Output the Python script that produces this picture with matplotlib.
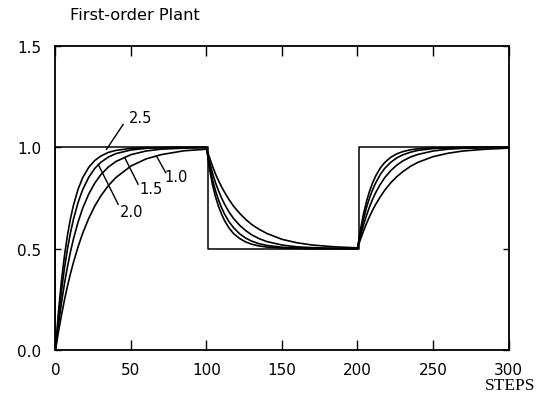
import matplotlib
matplotlib.use("Agg")
import matplotlib.pyplot as plt

# ---- data ----
steps = [0, 2, 4, 6, 8, 10, 12, 15, 18, 22, 26, 30, 35, 40, 50, 60, 70, 85, 100,
         102, 104, 106, 108, 110, 112, 115, 118, 122, 126, 130, 135, 140, 150, 160, 170, 185, 200,
         202, 204, 206, 208, 210, 212, 215, 218, 222, 226, 230, 235, 240, 250, 260, 270, 285, 300]

curve_2_5 = [0, .19, .344, .468, .569, .651, .717, .794, .85, .901, .935, .957, .975, .985, .995, .998, .999, 1.0, 1.0,
             .895, .815, .755, .708, .670, .638, .601, .574, .55, .533, .522, .513, .508, .503, .501, .5, .5, .5,
             .595, .672, .734, .784, .825, .858, .897, .925, .951, .968, .979, .988, .993, .998, .999, 1.0, 1.0, 1.0]
curve_2_0 = [0, .16, .294, .407, .501, .581, .648, .729, .791, .852, .896, .926, .952, .969, .987, .995, .998, .999, 1.0,
             .91, .84, .785, .74, .702, .670, .632, .603, .573, .552, .537, .524, .516, .507, .503, .501, .5, .5,
             .58, .647, .704, .751, .791, .824, .865, .896, .926, .948, .963, .976, .985, .994, .997, .999, 1.0, 1.0]
curve_1_5 = [0, .125, .234, .33, .413, .487, .551, .632, .699, .769, .823, .865, .903, .93, .964, .982, .991, .996, .999,
             .93, .872, .825, .785, .750, .719, .680, .648, .615, .589, .568, .549, .535, .518, .509, .505, .502, .501,
             .563, .617, .665, .707, .744, .776, .816, .85, .885, .912, .933, .952, .965, .982, .991, .995, .998, .999]
curve_1_0 = [0, .091, .173, .249, .317, .379, .435, .51, .576, .649, .71, .76, .811, .851, .908, .943, .964, .983, .991,
             .95, .907, .868, .835, .805, .778, .741, .709, .674, .644, .619, .595, .575, .546, .529, .518, .509, .504,
             .546, .587, .625, .659, .69, .718, .755, .788, .825, .855, .88, .906, .926, .954, .971, .982, .991, .996]

set_steps = [0, 0, 101, 101, 201, 201, 300]
set_vals = [0, 1, 1, 0.5, 0.5, 1, 1]

labels = ["2.5", "2.0", "1.5", "1.0"]
label_text_xy = [(56.5, 1.148), (50.6, 0.685), (63.0, 0.798), (79.6, 0.857)]
label_tip_xy = [(33.8, 0.99), (28.3, 0.916), (45.9, 0.949), (66.9, 0.957)]
label_tail_xy = [(44.8, 1.113), (41.5, 0.719), (54.7, 0.818), (73.0, 0.875)]

xticks = [0, 50, 100, 150, 200, 250, 300]
yticks = [0.0, 0.5, 1.0, 1.5]

# ---- figure ----
fig = plt.figure(figsize=(5.36, 4.02), dpi=100)
ax = fig.add_axes([0.1035, 0.1269, 0.8452, 0.7561])

ax.plot(set_steps, set_vals, color="black", lw=1.1)
for c in (curve_2_5, curve_2_0, curve_1_5, curve_1_0):
    ax.plot(steps, c, color="black", lw=1.2)

for lab, txy, tip, tail in zip(labels, label_text_xy, label_tip_xy, label_tail_xy):
    ax.plot([tip[0], tail[0]], [tip[1], tail[1]], color="black", lw=1.0)
    ax.text(txy[0], txy[1], lab, ha="center", va="center", fontsize=10.5,
            family="DejaVu Sans")

ax.set_xlim(0, 300)
ax.set_ylim(0, 1.5)
ax.set_xticks(xticks)
ax.set_yticks(yticks)
ax.set_xticklabels([str(v) for v in xticks])
ax.set_yticklabels([f"{v:.1f}" for v in yticks])
ax.tick_params(axis="x", direction="in", length=7, width=1.0, top=True,
               labelsize=11, pad=9)
ax.tick_params(axis="y", direction="in", length=4, width=1.0, right=True,
               labelsize=11, pad=10)
for sp in ax.spines.values():
    sp.set_linewidth(1.3)

fig.text(0.13, 0.962, "First-order Plant", fontsize=11.7, ha="left", va="center",
         family="DejaVu Sans")
fig.text(0.998, 0.04, "STEPS", fontsize=12.5, ha="right", va="center",
         family="Liberation Serif")

fig.savefig("out.png", dpi=100)
